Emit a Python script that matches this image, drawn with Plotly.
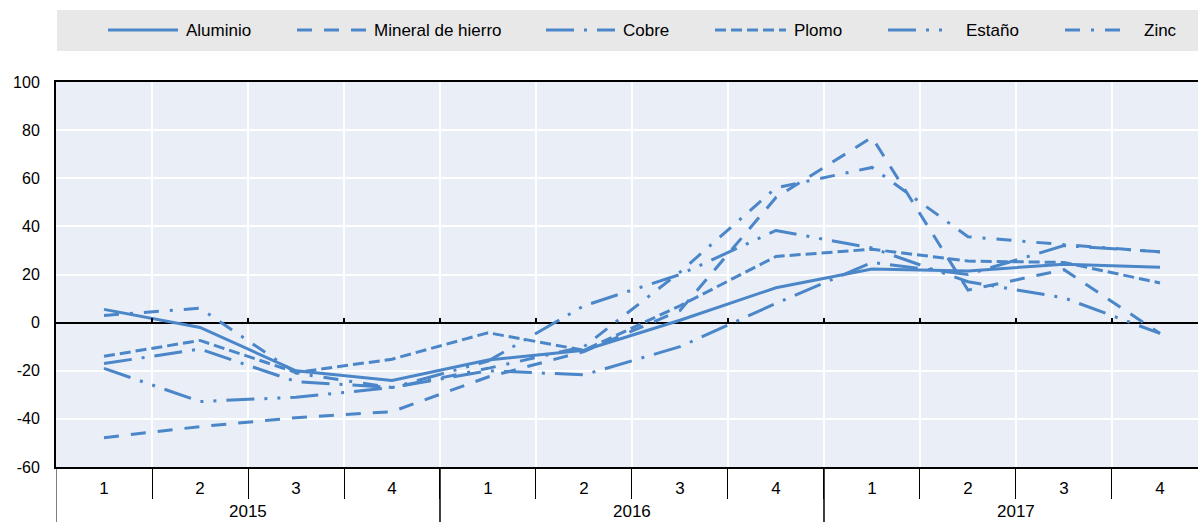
import plotly.graph_objects as go

years = ["2015"] * 4 + ["2016"] * 4 + ["2017"] * 4
quarters = ["1", "2", "3", "4"] * 3

aluminio = [5.5, -2, -20, -24, -15.5, -11.5, 1, 14.5, 22.3, 21.5, 24.3, 23]
mineral_hierro = [-47.8, -43.2, -39.5, -37, -22.6, -12, 5, 52, 77, 13.5, 22, -4.5]
cobre = [-17, -11, -24.5, -27, -20, -21.7, -10, 8, 25, 20, 32, 29.5]
plomo = [-14, -7.4, -20.7, -15.2, -4.2, -11.5, 7, 27.5, 30.5, 25.6, 25, 16.5]
estano = [-19, -32.8, -31, -27, -16, 7, 20, 38.3, 31, 17, 10.3, -4.5]
zinc = [3, 6, -21, -27, -19, -10, 21, 56, 64.5, 35.7, 32.4, 29.4]

y_ticks = [100, 80, 60, 40, 20, 0, -20, -40, -60]
y_ticktext = [str(v) for v in y_ticks]

COLOR = "#4a86c8"
FONT = "Liberation Sans Narrow, Arial Narrow, Liberation Sans, Arial, sans-serif"

series = [
    ("Aluminio", aluminio, "solid"),
    ("Mineral de hierro", mineral_hierro, "15px,12px"),
    ("Cobre", cobre, "28px,10px,3px,10px"),
    ("Plomo", plomo, "11px,5px"),
    ("Estaño", estano, "28px,10px,3px,10px,3px,10px"),
    ("Zinc", zinc, "15px,11px,3px,11px"),
]

W, H = 1198, 522
L, R, T, B = 56, 0, 82, 55
PW, PH = W - L - R, H - T - B

idx = list(range(len(quarters)))
boundaries = [i + 0.5 for i in idx[:-1]]
X_RANGE = [-0.5, 11.396]

fig = go.Figure()
for name, vals, dash in series:
    fig.add_trace(go.Scatter(
        x=idx, y=vals, name=name, mode="lines",
        line=dict(color=COLOR, width=3, dash=dash),
        showlegend=False,
        customdata=[f"{y}-T{q}" for y, q in zip(years, quarters)],
        hovertemplate="%{customdata}: %{y}<extra>" + name + "</extra>",
    ))

# helper axis for the small ticks on the zero line
fig.add_trace(go.Scatter(x=[0], y=[0], xaxis="x2", mode="markers",
                         marker=dict(opacity=0), showlegend=False,
                         hoverinfo="skip"))


def px(xp):
    return (xp - L) / PW


def py(yp):
    return (H - B - yp) / PH


# manual legend (grey band with long line samples)
shapes = [dict(type="rect", xref="paper", yref="paper",
               x0=px(57), x1=px(1198), y0=py(10), y1=py(51),
               fillcolor="#e8e8e8", line=dict(width=0), layer="below")]
annotations = []
legend_pos = [(108, 178, 184), (297, 367, 372), (546, 615, 621),
              (715, 786, 792), (888, 950, 964), (1065, 1125, 1142)]
for (name, vals, dash), (x0, x1, xt) in zip(series, legend_pos):
    shapes.append(dict(type="line", xref="paper", yref="paper",
                       x0=px(x0), x1=px(x1), y0=py(30), y1=py(30),
                       line=dict(color=COLOR, width=3, dash=dash)))
    annotations.append(dict(text=name, xref="paper", yref="paper",
                            x=px(xt), y=py(30.5), xanchor="left", yanchor="middle",
                            showarrow=False, font=dict(size=17, color="black", family=FONT)))

# year group labels and dividers
groups = []
for i, y in enumerate(years):
    if not groups or groups[-1][0] != y:
        groups.append([y, i, i])
    else:
        groups[-1][2] = i
for y, i0, i1 in groups:
    annotations.append(dict(text=y, xref="x", yref="paper", x=(i0 + i1) / 2,
                            y=py(511), xanchor="center", yanchor="middle",
                            showarrow=False, font=dict(size=17, color="black", family=FONT)))
    for xb in (i0 - 0.5, i1 + 0.5):
        shapes.append(dict(type="line", xref="x", yref="paper",
                           x0=xb, x1=xb, y0=0, y1=py(H + 5),
                           line=dict(color="black", width=1)))

fig.update_layout(
    width=W, height=H,
    margin=dict(l=L, r=R, t=T, b=B, autoexpand=False),
    paper_bgcolor="white",
    plot_bgcolor="#e9eef7",
    font=dict(family=FONT, size=17, color="black"),
    shapes=shapes,
    annotations=annotations,
    hovermode="closest",
    xaxis=dict(
        automargin=False, range=X_RANGE,
        tickmode="array", tickvals=idx, ticktext=quarters,
        showline=True, linecolor="black", linewidth=2, mirror=True,
        ticks="", showgrid=False, zeroline=False,
        ticklabelstandoff=5,
        tickfont=dict(size=17, family=FONT),
        minor=dict(tickmode="array", tickvals=boundaries, ticks="outside",
                   ticklen=30, tickwidth=1, tickcolor="black",
                   showgrid=True, gridcolor="white", gridwidth=2),
    ),
    xaxis2=dict(
        overlaying="x", anchor="free", position=60 / 160, side="bottom",
        range=X_RANGE, tickvals=boundaries,
        ticks="inside", ticklen=5, tickwidth=2, tickcolor="black",
        showticklabels=False, showgrid=False, zeroline=False, showline=False,
        automargin=False,
    ),
    yaxis=dict(
        range=[-60, 100], tickvals=y_ticks, ticktext=y_ticktext, automargin=False,
        showline=True, linecolor="black", linewidth=2,
        showgrid=True, gridcolor="white", gridwidth=2,
        zeroline=True, zerolinecolor="black", zerolinewidth=2,
        ticks="", ticklabelstandoff=11,
        tickfont=dict(size=16, family=FONT),
    ),
)

fig.write_html("out.html", config={"displayModeBar": False},
               post_script="document.body.style.margin='0';")
